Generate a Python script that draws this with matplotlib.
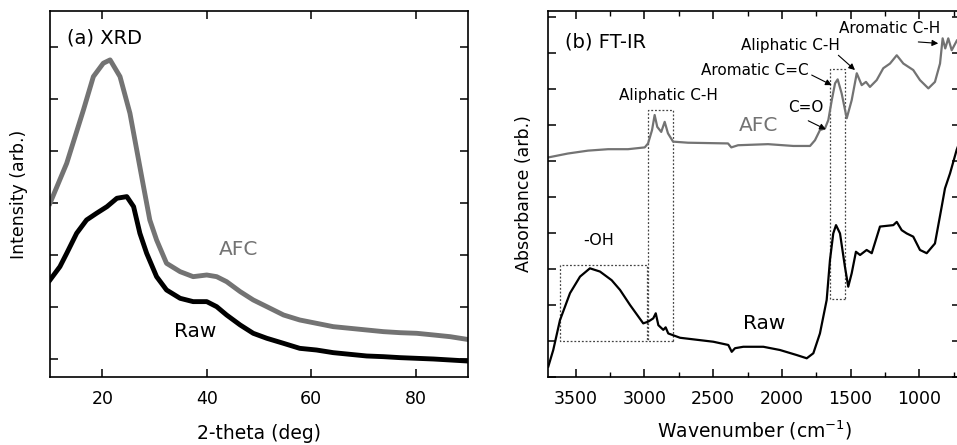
import matplotlib
matplotlib.use('Agg')
import matplotlib.pyplot as plt
from matplotlib.patches import Rectangle
from matplotlib.ticker import MultipleLocator

# ---- (a) XRD data ----
xrd_afc_2theta = [10.0, 13.2, 16.4, 18.3, 20.2, 21.5, 23.4, 25.3, 26.6, 27.9, 29.1, 30.4,
                  32.3, 34.9, 37.4, 40.0, 41.9, 43.8, 46.4, 48.9, 51.5, 54.7, 57.8, 61.0,
                  64.2, 67.4, 70.6, 73.8, 77.0, 80.2, 83.4, 86.6, 89.8]
xrd_afc = [2994, 3763, 4788, 5429, 5686, 5750, 5429, 4724, 4019, 3314, 2673, 2288,
           1840, 1679, 1583, 1615, 1583, 1487, 1295, 1135, 1006, 846, 750, 686,
           622, 590, 558, 526, 506, 494, 462, 429, 378]
xrd_raw_2theta = [10.0, 11.9, 13.2, 15.1, 17.0, 18.9, 20.9, 22.8, 24.7, 26.0, 27.2, 28.5,
                  30.4, 32.3, 34.9, 37.4, 40.0, 41.9, 43.8, 46.4, 48.9, 51.5, 54.7, 57.8,
                  61.0, 64.2, 67.4, 70.6, 73.8, 77.0, 80.2, 83.4, 86.6, 89.8]
xrd_raw = [1519, 1776, 2032, 2417, 2673, 2801, 2929, 3090, 3122, 2929, 2417, 2032,
           1583, 1327, 1167, 1103, 1103, 1006, 846, 654, 494, 398, 301, 205,
           173, 122, 90, 58, 45, 26, 13, 0, -19, -38]

# ---- (b) FT-IR data ----
ir_afc_wn = [3702, 3557, 3411, 3265, 3120, 2998, 2974, 2945, 2926, 2907, 2878, 2853, 2829,
             2792, 2683, 2392, 2368, 2319, 2101, 1917, 1795, 1759, 1723, 1686, 1662, 1637,
             1613, 1594, 1565, 1528, 1492, 1455, 1419, 1388, 1359, 1310, 1262, 1213, 1164,
             1116, 1044, 995, 934, 886, 849, 830, 811, 789, 764, 725, 700]
ir_afc = [6.10, 6.21, 6.29, 6.33, 6.33, 6.38, 6.49, 6.86, 7.28, 6.95, 6.81, 7.09, 6.77,
          6.54, 6.51, 6.49, 6.38, 6.44, 6.47, 6.42, 6.42, 6.58, 6.86, 6.91, 7.14, 7.69,
          8.16, 8.27, 7.88, 7.19, 7.69, 8.44, 8.11, 8.20, 8.06, 8.25, 8.58, 8.71, 8.94,
          8.71, 8.53, 8.25, 8.02, 8.20, 8.71, 9.41, 9.13, 9.41, 9.08, 9.36, 9.25]
ir_raw_wn = [3700, 3664, 3615, 3542, 3469, 3397, 3324, 3239, 3178, 3105, 3009, 2972, 2936,
             2918, 2899, 2863, 2846, 2827, 2741, 2499, 2390, 2365, 2341, 2281, 2135, 2014,
             1892, 1819, 1771, 1723, 1674, 1650, 1626, 1606, 1577, 1541, 1517, 1492, 1461,
             1431, 1383, 1346, 1286, 1189, 1164, 1128, 1092, 1044, 995, 946, 886, 837, 813,
             776, 728, 700]
ir_raw = [0.29, 0.75, 1.58, 2.33, 2.79, 3.02, 2.93, 2.69, 2.42, 2.00, 1.49, 1.54, 1.63,
          1.77, 1.44, 1.31, 1.38, 1.21, 1.09, 0.98, 0.89, 0.70, 0.80, 0.84, 0.84, 0.75,
          0.61, 0.52, 0.66, 1.21, 2.14, 3.25, 3.99, 4.22, 3.99, 3.06, 2.51, 2.88, 3.48,
          3.39, 3.53, 3.44, 4.18, 4.22, 4.31, 4.08, 3.99, 3.90, 3.53, 3.44, 3.71, 4.73,
          5.24, 5.66, 6.31, 6.60]

# dotted boxes: (wn_left, wn_right, y_bottom, y_top)
box_oh = (3615, 2984, 1.01, 3.11)
box_ch = (2972, 2795, 1.01, 7.42)
box_cc = (1650, 1541, 2.16, 8.55)

AFC_COLOR = '#737373'

plt.rcParams['font.family'] = ['DejaVu Sans']
plt.rcParams['xtick.direction'] = 'in'
plt.rcParams['ytick.direction'] = 'in'

fig = plt.figure(figsize=(9.57, 4.45), dpi=100)

# ---------- (a) XRD ----------
ax1 = fig.add_axes([50 / 957, 68 / 445, 418 / 957, 366 / 445])
ax1.plot(xrd_afc_2theta, xrd_afc, color=AFC_COLOR, lw=3.5)
ax1.plot(xrd_raw_2theta, xrd_raw, color='black', lw=3.5)
ax1.set_xlim(10, 90)
ax1.set_ylim(-346, 6690)
ax1.xaxis.set_major_locator(MultipleLocator(20))
ax1.yaxis.set_major_locator(MultipleLocator(1000))
ax1.tick_params(which='major', length=6, width=1.1, top=True, right=True,
                labelsize=12.5, pad=9, labelleft=False)
ax1.set_xlabel('2-theta (deg)', fontsize=13.5, labelpad=12)
ax1.set_ylabel('Intensity (arb.)', fontsize=12.5, labelpad=16)
ax1.text(13.2, 6173, '(a) XRD', fontsize=14, ha='left', va='center')
ax1.text(46.0, 2096, 'AFC', fontsize=14.5, color=AFC_COLOR, ha='center', va='center')
ax1.text(37.75, 525, 'Raw', fontsize=14.5, color='black', ha='center', va='center')

# ---------- (b) FT-IR ----------
ax2 = fig.add_axes([548.3 / 957, 68 / 445, 412.2 / 957, 366 / 445])
ax2.plot(ir_afc_wn, ir_afc, color=AFC_COLOR, lw=1.6)
ax2.plot(ir_raw_wn, ir_raw, color='black', lw=1.6)
ax2.set_xlim(3700, 700)
ax2.set_ylim(0, 10.17)
ax2.xaxis.set_major_locator(MultipleLocator(500))
ax2.xaxis.set_minor_locator(MultipleLocator(250))
ax2.yaxis.set_major_locator(MultipleLocator(1))
ax2.tick_params(which='major', length=6, width=1.1, top=True, right=True,
                labelsize=12.5, pad=9, labelleft=False)
ax2.tick_params(which='minor', length=3.5, width=1.0, top=True, bottom=True)
ax2.set_xlabel('Wavenumber (cm$^{-1}$)', fontsize=13.5, labelpad=8)
ax2.set_ylabel('Absorbance (arb.)', fontsize=12.5, labelpad=11)

for (x0, x1, y0, y1) in [box_oh, box_ch, box_cc]:
    ax2.add_patch(Rectangle((min(x0, x1), y0), abs(x1 - x0), y1 - y0, fill=False,
                            ls=(0, (1.5, 1.5)), lw=0.9, ec='#444444'))

ax2.text(3578, 9.31, '(b) FT-IR', fontsize=14, ha='left', va='center')
ax2.text(2822, 7.81, 'Aliphatic C-H', fontsize=11, ha='center', va='center')
ax2.text(1826, 7.49, 'C=O', fontsize=11, ha='center', va='center')
ax2.text(2198, 8.51, 'Aromatic C=C', fontsize=11, ha='center', va='center')
ax2.text(1941, 9.22, 'Aliphatic C-H', fontsize=11, ha='center', va='center')
ax2.text(1214, 9.68, 'Aromatic C-H', fontsize=11, ha='center', va='center')
ax2.text(2172, 7.0, 'AFC', fontsize=14.5, color=AFC_COLOR, ha='center', va='center')
ax2.text(2130, 1.5, 'Raw', fontsize=14.5, color='black', ha='center', va='center')
ax2.text(3336, 3.78, '-OH', fontsize=11.5, ha='center', va='center')

# arrows (tail -> head)
arrows = [((1808, 7.12), (1680, 6.88)),
          ((1783, 8.39), (1637, 8.11)),
          ((1589, 8.94), (1468, 8.53)),
          ((1007, 9.31), (862, 9.27))]
for tail, head in arrows:
    ax2.annotate('', xy=head, xytext=tail,
                 arrowprops=dict(arrowstyle='-|>', color='black', lw=0.8,
                                 mutation_scale=9, shrinkA=0, shrinkB=0))

for ax in (ax1, ax2):
    for sp in ax.spines.values():
        sp.set_linewidth(1.2)

fig.savefig('out.png', dpi=100)
